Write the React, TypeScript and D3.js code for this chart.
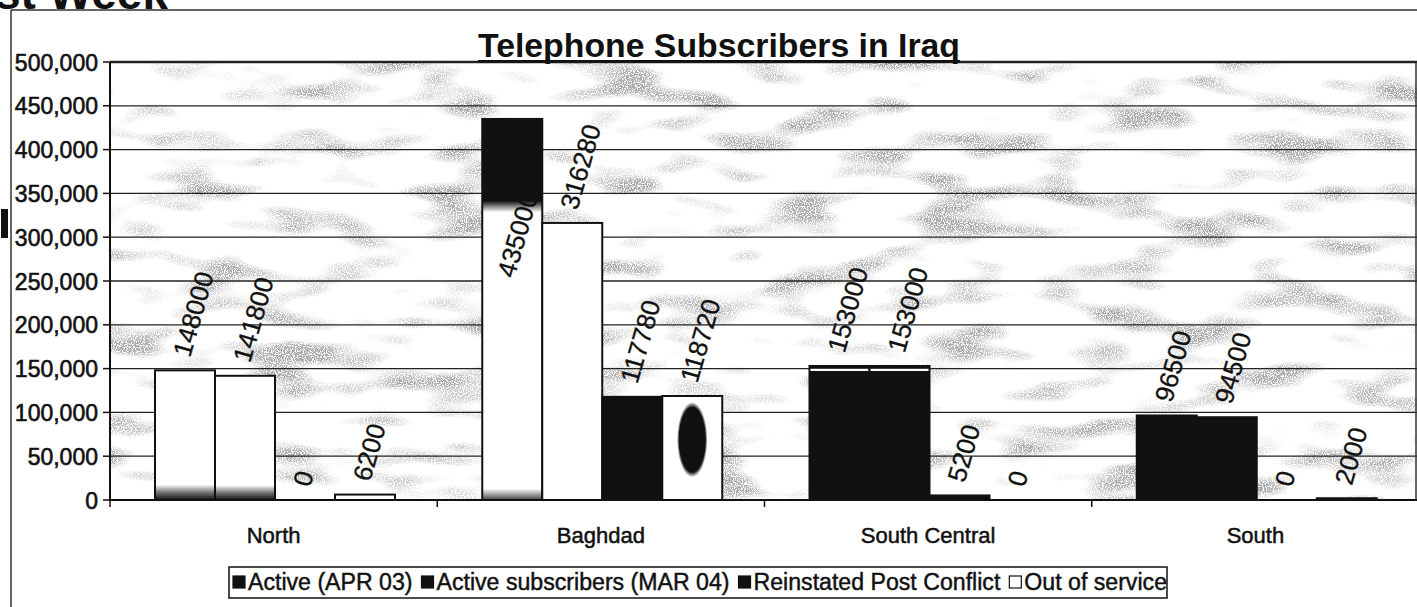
import { useEffect, useRef } from 'react'
import * as d3 from 'd3'

const regions = ['North', 'Baghdad', 'South Central', 'South']
const seriesNames = ['Active (APR 03)', 'Active subscribers (MAR 04)', 'Reinstated Post Conflict', 'Out of service']
const activeApr03 = [148000, 435000, 153000, 96500]
const activeMar04 = [141800, 316280, 153000, 94500]
const reinstated = [0, 117780, 5200, 0]
const outOfService = [6200, 118720, 0, 2000]
const yTicks = [0, 50000, 100000, 150000, 200000, 250000, 300000, 350000, 400000, 450000, 500000]

// how each bar came out on the photocopy (region x series)
const barTones = [
  ['whiteDark', 'whiteDark', 'white', 'white'],
  ['blackTop', 'white', 'black', 'blob'],
  ['blackStripe', 'blackStripe', 'black', 'black'],
  ['black', 'black', 'black', 'black'],
]
const legendTones = ['black', 'black', 'black', 'white']

const W = 1417
const H = 607
const plot = { left: 110, right: 1419, top: 62, bottom: 500 }
const FONT = 'Liberation Sans, Arial, sans-serif'
const INK = '#111'

export default function App() {
  const svgRef = useRef<SVGSVGElement>(null)

  useEffect(() => {
    if (!svgRef.current) return
    const svg = d3.select(svgRef.current)
    svg.selectAll('*').remove()

    const series = [activeApr03, activeMar04, reinstated, outOfService]

    const x0 = d3.scaleBand<string>().domain(regions).range([plot.left, plot.right])
    const x1 = d3.scaleBand<number>().domain([0, 1, 2, 3]).range([45, 285])
    const y = d3.scaleLinear().domain([0, 500000]).range([plot.bottom, plot.top])

    const defs = svg.append('defs')
    const vgrad = (id: string, stops: [number, string][]) => {
      const g = defs.append('linearGradient').attr('id', id)
        .attr('x1', 0).attr('y1', 0).attr('x2', 0).attr('y2', 1)
      stops.forEach(([o, c]) => g.append('stop').attr('offset', o).attr('stop-color', c))
    }
    vgrad('g-whiteDark', [[0, '#fff'], [0.88, '#fff'], [0.94, '#777'], [1, INK]])
    vgrad('g-blackTop', [[0, INK], [0.215, INK], [0.245, '#fff'], [0.97, '#fff'], [1, '#444']])
    vgrad('g-blackStripe', [[0, INK], [0.018, INK], [0.022, '#fff'], [0.036, '#fff'], [0.04, INK], [1, INK]])
    const blob = defs.append('radialGradient').attr('id', 'g-blob')
      .attr('cx', 0.5).attr('cy', 0.42).attr('r', 0.38)
      .attr('gradientTransform', 'translate(0.5 0.42) scale(0.7 1) translate(-0.5 -0.42)')
    blob.append('stop').attr('offset', 0).attr('stop-color', INK)
    blob.append('stop').attr('offset', 0.82).attr('stop-color', INK)
    blob.append('stop').attr('offset', 0.95).attr('stop-color', '#fff')

    // grey grainy blotches of the scan
    const f = defs.append('filter').attr('id', 'scan').attr('filterUnits', 'userSpaceOnUse')
      .attr('x', plot.left).attr('y', plot.top).attr('width', plot.right - plot.left).attr('height', plot.bottom - plot.top)
    f.append('feTurbulence').attr('type', 'fractalNoise').attr('baseFrequency', '0.012 0.038')
      .attr('numOctaves', 2).attr('seed', 7).attr('result', 'low')
    f.append('feColorMatrix').attr('in', 'low').attr('type', 'matrix')
      .attr('values', '0 0 0 0 0.5  0 0 0 0 0.5  0 0 0 0 0.5  4.5 0 0 0 -2.3').attr('result', 'blobs')
    f.append('feTurbulence').attr('type', 'fractalNoise').attr('baseFrequency', '0.9')
      .attr('numOctaves', 1).attr('seed', 3).attr('result', 'high')
    f.append('feColorMatrix').attr('in', 'high').attr('type', 'matrix')
      .attr('values', '0 0 0 0 0.4  0 0 0 0 0.4  0 0 0 0 0.4  8 0 0 0 -3.2').attr('result', 'speck')
    f.append('feComposite').attr('in', 'speck').attr('in2', 'blobs').attr('operator', 'in')

    const toneFill: Record<string, string> = {
      white: '#fff', black: INK, whiteDark: 'url(#g-whiteDark)', blackTop: 'url(#g-blackTop)',
      blackStripe: 'url(#g-blackStripe)', blob: 'url(#g-blob)'
    }

    // outer frame of the slide
    svg.append('line').attr('x1', 11).attr('x2', W).attr('y1', 10).attr('y2', 10)
      .attr('stroke', '#333').attr('stroke-width', 1.5)
    svg.append('line').attr('x1', 11).attr('x2', 11).attr('y1', 10).attr('y2', H)
      .attr('stroke', '#333').attr('stroke-width', 1.5)
    svg.append('text').attr('x', -5).attr('y', 9).attr('font-family', FONT)
      .attr('font-weight', 'bold').attr('font-size', 46).attr('fill', INK).text('st Week')
    svg.append('rect').attr('x', 1).attr('y', 209).attr('width', 7).attr('height', 29).attr('fill', INK)

    const g = svg.append('g')

    g.append('rect').attr('x', plot.left).attr('y', plot.top)
      .attr('width', plot.right - plot.left).attr('height', plot.bottom - plot.top)
      .attr('fill', '#fff')
    g.append('rect').attr('x', plot.left).attr('y', plot.top)
      .attr('width', plot.right - plot.left).attr('height', plot.bottom - plot.top)
      .attr('filter', 'url(#scan)')

    // gridlines
    g.selectAll('.grid').data(yTicks.filter(t => t > 0)).enter().append('line')
      .attr('x1', plot.left).attr('x2', plot.right)
      .attr('y1', d => y(d)).attr('y2', d => y(d))
      .attr('stroke', '#222').attr('stroke-width', d => (d === 500000 ? 2.5 : 1.3))

    // bars
    regions.forEach((r, i) => {
      series.forEach((s, j) => {
        const v = s[i]
        if (v <= 0) return
        const tone = barTones[i][j]
        g.append('rect')
          .attr('x', x0(r)! + x1(j)!)
          .attr('y', y(v))
          .attr('width', x1.bandwidth())
          .attr('height', y(0) - y(v))
          .attr('fill', toneFill[tone])
          .attr('stroke', INK)
          .attr('stroke-width', 2)
      })
    })

    const ink = (sel: d3.Selection<SVGTextElement, any, any, any>, w = 0.5) =>
      sel.attr('fill', INK).attr('stroke', INK).attr('stroke-width', w)

    // value labels, slanted
    const labelFont = 26
    const labelExtent = labelFont * 3.4
    regions.forEach((r, i) => {
      series.forEach((s, j) => {
        const v = s[i]
        const cx = x0(r)! + x1(j)! + x1.bandwidth() / 2
        const overflow = y(v) - 12 - labelExtent < plot.top
        const px = overflow ? cx + 2 : cx + 5
        const py = overflow ? y(v) + 160 : y(v) - 12
        ink(g.append('text')
          .attr('transform', `translate(${px},${py}) rotate(-74)`)
          .attr('font-family', FONT).attr('font-size', labelFont), 0.3)
          .text(String(v))
      })
    })

    // axes
    g.append('line').attr('x1', plot.left).attr('x2', plot.left).attr('y1', plot.top).attr('y2', plot.bottom + 1)
      .attr('stroke', INK).attr('stroke-width', 2)
    g.append('line').attr('x1', 1416).attr('x2', 1416).attr('y1', plot.top).attr('y2', plot.bottom)
      .attr('stroke', '#333').attr('stroke-width', 1.5)
    g.append('line').attr('x1', plot.left).attr('x2', plot.right).attr('y1', plot.bottom).attr('y2', plot.bottom)
      .attr('stroke', INK).attr('stroke-width', 2)

    g.selectAll('.ytick').data(yTicks).enter().append('line')
      .attr('x1', plot.left - 7).attr('x2', plot.left)
      .attr('y1', d => y(d)).attr('y2', d => y(d))
      .attr('stroke', INK).attr('stroke-width', 1.5)
    ink(g.selectAll('.ylabel').data(yTicks).enter().append('text')
      .attr('x', 98).attr('y', d => y(d) + 8.5)
      .attr('text-anchor', 'end').attr('font-family', FONT).attr('font-size', 23), 0.6)
      .text(d => d3.format(',')(d))

    g.selectAll('.xtick').data(regions).enter().append('line')
      .attr('x1', d => x0(d)!).attr('x2', d => x0(d)!)
      .attr('y1', plot.bottom).attr('y2', plot.bottom + 7)
      .attr('stroke', INK).attr('stroke-width', 1.5)
    ink(g.selectAll('.xlabel').data(regions).enter().append('text')
      .attr('x', d => x0(d)! + x0.bandwidth() / 2).attr('y', 543)
      .attr('text-anchor', 'middle').attr('font-family', FONT).attr('font-size', 22), 0.5)
      .text(d => d)

    // title
    const title = svg.append('text').attr('x', 719).attr('y', 57)
      .attr('text-anchor', 'middle').attr('font-family', FONT).attr('font-weight', 'bold')
      .attr('font-size', 34).attr('fill', INK)
      .attr('textLength', 482).attr('lengthAdjust', 'spacingAndGlyphs')
      .text('Telephone Subscribers in Iraq')
    const tb = (title.node() as SVGTextElement).getBBox()
    svg.append('rect').attr('x', tb.x).attr('y', 60).attr('width', tb.width).attr('height', 2.5).attr('fill', INK)

    // legend, stretched to the box of the scan
    const legLeft = 229
    const legRight = 1167
    const markW = 12
    const gapAfterMark = 3
    const gapAfterText = 9
    const leg = svg.append('g')
    leg.append('rect').attr('x', legLeft).attr('y', 567).attr('width', legRight - legLeft).attr('height', 31)
      .attr('fill', '#fff').attr('stroke', INK).attr('stroke-width', 1.5)
    const texts = seriesNames.map(name =>
      ink(leg.append('text').attr('y', 590).attr('font-family', FONT).attr('font-size', 23), 0.45).text(name))
    const natural = texts.map(t => (t.node() as SVGTextElement).getComputedTextLength())
    const room = legRight - legLeft - 4 - seriesNames.length * (markW + gapAfterMark + gapAfterText) + gapAfterText
    const k = room / d3.sum(natural)
    let lx = legLeft + 4
    texts.forEach((t, i) => {
      leg.append('rect').attr('x', lx).attr('y', 576).attr('width', markW).attr('height', markW)
        .attr('fill', legendTones[i] === 'white' ? '#fff' : INK)
        .attr('stroke', INK).attr('stroke-width', 1.2)
      const w = natural[i] * k
      t.attr('x', lx + markW + gapAfterMark).attr('textLength', w).attr('lengthAdjust', 'spacingAndGlyphs')
      lx += markW + gapAfterMark + w + gapAfterText
    })
  }, [])

  return (
    <svg
      ref={svgRef}
      width={W}
      height={H}
      style={{ position: 'absolute', left: 0, top: 0, background: '#fff' }}
    />
  )
}
